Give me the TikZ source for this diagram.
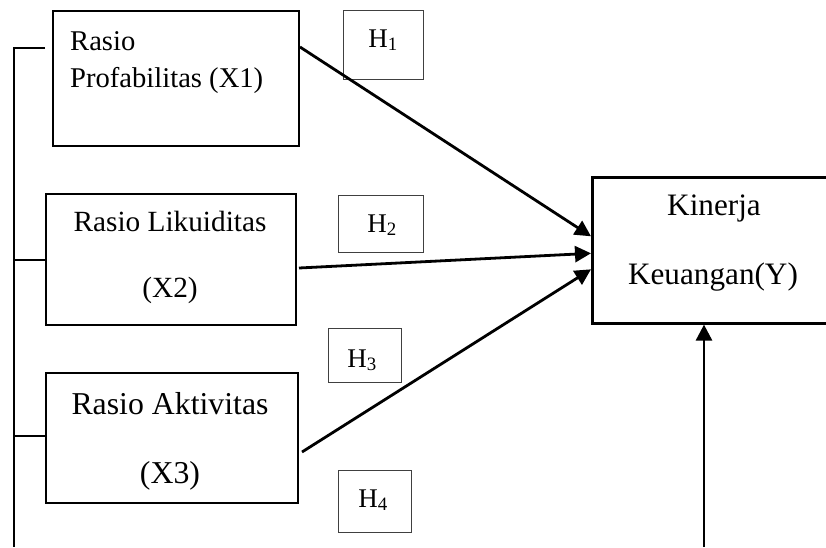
\documentclass[tikz,border=0pt]{standalone}
\usepackage{fontspec}
\setmainfont{Liberation Serif}
\usetikzlibrary{arrows.meta,calc}
\begin{document}
\begin{tikzpicture}[x=1pt,y=-1pt,
  box/.style={draw,line width=2pt,inner sep=0pt,anchor=north west},
  ybox/.style={draw,line width=2.6pt,inner sep=0pt,anchor=north west},
  hbox/.style={draw=black!75,line width=1pt,inner sep=0pt,anchor=north west},
  txt/.style={inner sep=0pt,anchor=base},
  fa/.style={font=\fontsize{28.6pt}{30pt}\selectfont},
  fb/.style={font=\fontsize{29.3pt}{30pt}\selectfont},
  fc/.style={font=\fontsize{31.8pt}{33pt}\selectfont},
  fy/.style={font=\fontsize{31.2pt}{33pt}\selectfont},
  fh/.style={font=\fontsize{27pt}{28pt}\selectfont},
  arr/.style={line width=2.8pt,-{Triangle[length=16pt,width=16pt]}},
  brk/.style={line width=2pt}]
\useasboundingbox (0,0) rectangle (826,547);
% boxes
\node[box,minimum width=246pt,minimum height=135pt] (x1) at (52,10) {};
\node[box,minimum width=250pt,minimum height=131pt] (x2) at (45,193) {};
\node[box,minimum width=252pt,minimum height=130pt] (x3) at (45,372) {};
\node[ybox,minimum width=236pt,minimum height=146pt] (y) at (591,176) {};
\node[hbox,minimum width=80pt,minimum height=69pt] (h1) at (343,10) {};
\node[hbox,minimum width=85pt,minimum height=57pt] (h2) at (338,195) {};
\node[hbox,minimum width=73pt,minimum height=54pt] (h3) at (328,328) {};
\node[hbox,minimum width=73pt,minimum height=62pt] (h4) at (338,470) {};
% texts
\node[txt,fa,anchor=base west] (x1a) at (70,50) {Rasio};
\node[txt,fa,anchor=base west] (x1b) at (70,87) {Profabilitas (X1)};
\node[txt,fb] (x2a) at (170,231) {Rasio Likuiditas};
\node[txt,fb] (x2b) at (170,297) {(X2)};
\node[txt,fc] (x3a) at (170,414) {Rasio Aktivitas};
\node[txt,fc] (x3b) at (170,483) {(X3)};
\node[txt,fy] (ya) at (714,215) {Kinerja};
\node[txt,fy] (yb) at (713,284) {Keuangan(Y)};
\node[txt,fh] (h1t) at (383,47) {H\textsubscript{1}};
\node[txt,fh] (h2t) at (382,232) {H\textsubscript{2}};
\node[txt,fh] (h3t) at (362,367) {H\textsubscript{3}};
\node[txt,fh] (h4t) at (373,507) {H\textsubscript{4}};
% connector points
\coordinate (s1) at ($(x1.north east)+(0,37)$);
\coordinate (s2) at ($(x2.north east)+(2,75)$);
\coordinate (s3) at ($(x3.north east)+(3,80)$);
\coordinate (e1) at ($(y.west)+(0,-14)$);
\coordinate (e2) at ($(y.west)+(0,3)$);
\coordinate (e3) at ($(y.west)+(0,19)$);
\coordinate (bl) at (14,547);
\coordinate (bb) at (704,547);
\coordinate (t1) at (45,48);
\coordinate (t2) at (x2.west);
\coordinate (t3) at ($(x3.west)+(2,-2)$);
% arrows
\draw[arr] (s1) -- (e1);
\draw[arr] (s2) -- (e2);
\draw[arr] (s3) -- (e3);
\draw[arr] (bb) -- (bb |- y.south);
% left bracket
\draw[brk] (t1) -- (14,48) -- (bl);
\draw[brk] (t2) -- (14,0 |- t2);
\draw[brk] (t3) -- (14,0 |- t3);
\end{tikzpicture}
\end{document}
